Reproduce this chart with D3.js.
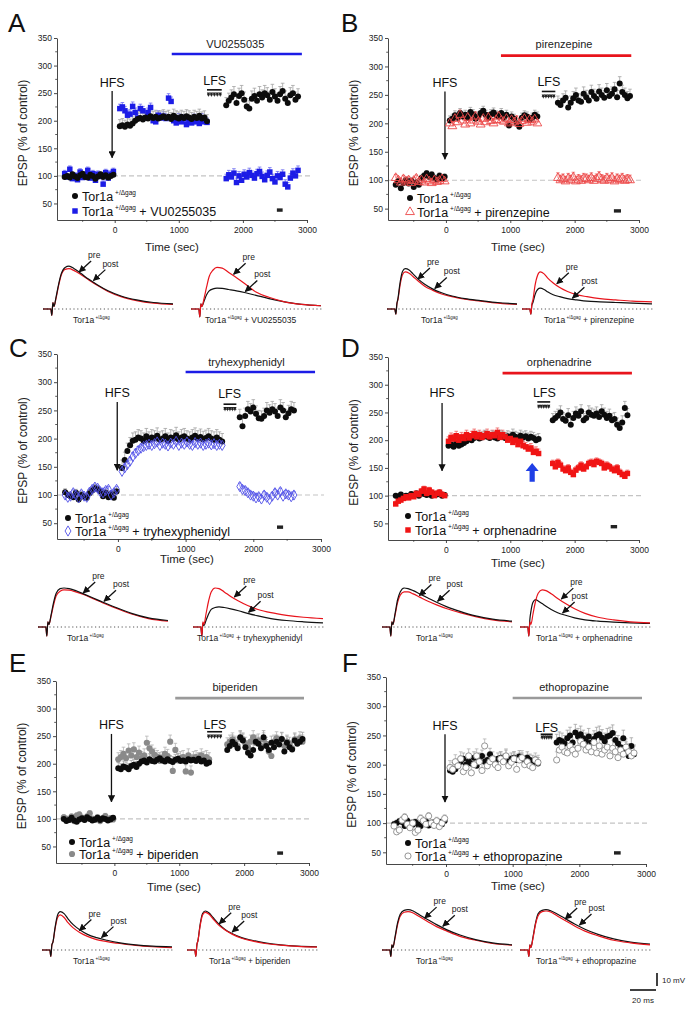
<!DOCTYPE html>
<html><head><meta charset="utf-8">
<script src="https://cdn.jsdelivr.net/npm/d3@7"></script>
<style>body{margin:0;background:#fff}svg{display:block;font-family:"Liberation Sans",Arial,sans-serif}</style>
</head><body>
<script>
// ================= DATA =================
const xTicks=[0,1000,2000,3000];
const xMinor=[-500,500,1500,2500];
const yTicks=[50,100,150,200,250,300,350];
const yMinor=[75,125,175,225,275,325];
const panelIds=["A","B","C","D","E","F"];
const drugNames=["VU0255035","pirenzepine","tryhexyphenidyl","orphenadrine","biperiden","ethopropazine"];
const sampleStep=40; // s between points
// segment start times [baseline, post-HFS, post-LFS]
const A_t0=[-780,80,1740], B_t0=[-780,60,1740], C_t0=[-780,60,1800];
const D_t0=[-780,40,1660], E_t0=[-780,60,1740], F_t0=[-780,60,1660];

const A_ctrl_base=[98,100,97,103,99,96,101,104,98,97,102,100,95,99,103,98,101,97,100,102];
const A_drug_base=[104,98,112,95,100,93,107,97,101,110,96,104,92,103,99,85,106,96,103,108];
const A_ctrl_hfs=[190,192,189,193,191,195,200,203,205,202,206,204,208,205,207,204,206,208,205,207,203,209,206,204,207,205,208,206,203,207,205,209,204,206,199];
const A_drug_hfs=[222,225,218,210,212,226,215,205,222,218,205,215,224,200,198,210,205,208,204,241,235,200,196,205,198,203,193,200,196,204,198,195,205,198,197];
const A_ctrl_lfs=[228,236,242,248,232,245,250,238,226,222,240,245,236,248,242,250,246,238,252,244,236,248,254,240,232,246,250,238,244];
const A_drug_lfs=[95,102,98,105,88,100,92,103,98,106,101,96,104,108,99,93,101,107,95,89,100,97,103,85,80,96,105,100,110];

const B_ctrl_base=[92,98,86,95,100,94,99,88,96,92,104,108,112,106,110,104,101,108,103,106];
const B_drug_base=[104,100,96,102,98,100,95,99,103,97,100,96,102,98,95,100,97,99,102,98];
const B_ctrl_hfs=[205,208,214,210,218,212,215,210,220,216,208,212,218,222,215,210,216,219,214,212,218,210,215,196,212,208,200,194,210,214,212,206,210,215,212];
const B_drug_hfs=[200,195,208,202,215,205,198,210,200,205,212,203,198,208,202,210,204,200,206,212,205,203,208,200,206,202,205,199,204,208,201,206,203,207,200];
const B_ctrl_lfs=[236,232,240,245,228,236,244,250,240,238,252,246,240,255,248,243,256,250,245,258,248,252,260,246,270,255,250,244,248];
const B_drug_lfs=[104,100,102,98,103,100,105,98,101,99,103,102,100,104,99,102,106,101,99,103,100,104,98,102,100,103,99,101,100];

const C_ctrl_base=[105,100,98,96,104,92,100,97,95,103,108,112,110,106,98,104,96,102,95,106];
const C_drug_base=[100,96,98,104,100,95,102,98,96,105,110,114,112,106,104,108,110,100,104,110];
const C_ctrl_hfs=[148,162,178,188,196,198,202,200,196,204,198,202,200,205,198,200,204,196,202,200,206,198,202,204,200,198,202,205,200,203,199,201,204,200,198,202,198,195];
const C_drug_hfs=[142,148,154,160,168,174,179,183,186,188,190,188,191,194,188,192,190,187,192,190,195,188,192,190,194,190,188,193,190,192,188,190,192,189,191,188,190,188];
const C_ctrl_lfs=[238,222,240,252,248,255,244,236,235,240,250,246,252,248,240,255,250,238,245,252,250];
const C_drug_lfs=[115,110,108,104,100,98,95,97,93,100,96,92,98,104,100,106,98,102,100,97,100];

const D_ctrl_base=[100,98,102,96,100,99,103,101,104,100,106,103,101,104,100,103,102,105,100,101];
const D_drug_base=[85,90,92,95,98,96,100,98,104,102,108,112,104,110,106,100,104,106,102,100];
const D_ctrl_hfs=[190,192,188,194,190,192,195,198,202,200,204,206,203,205,208,206,204,207,205,203,208,206,204,207,205,210,206,204,208,205,207,203,206,204,200,202];
const D_drug_hfs=[198,205,202,208,200,206,203,210,204,208,212,206,210,205,208,212,206,210,208,214,205,210,206,200,203,196,200,192,198,190,188,184,186,178,180,176];
const D_ctrl_lfs=[236,240,244,250,238,235,245,228,240,248,244,252,236,240,250,246,244,248,242,252,246,240,244,236,238,228,222,232,258,245];
const D_drug_lfs=[158,152,160,155,148,145,150,142,138,146,150,155,148,152,158,160,156,162,160,158,150,155,152,148,145,150,142,138,135,140];

const E_ctrl_base=[100,96,98,102,97,95,99,101,98,103,100,97,99,102,98,101,100,97,99,102];
const E_drug_base=[103,100,98,104,96,106,108,102,99,104,110,100,98,103,96,100,105,98,101,99];
const E_ctrl_hfs=[192,190,195,193,190,196,198,194,200,204,206,202,208,205,204,207,210,206,204,208,205,203,207,209,205,206,204,208,206,207,205,209,204,206,200,202];
const E_drug_hfs=[208,212,218,210,224,215,226,212,220,210,215,238,228,222,216,212,205,210,218,214,240,187,225,206,210,212,186,215,184,210,212,208,215,210,212,208];
const E_ctrl_lfs=[225,232,240,235,228,248,242,230,220,215,225,240,236,228,248,232,225,238,230,240,235,245,222,238,230,226,242,236,240,245];
const E_drug_lfs=[235,240,244,238,232,246,244,236,230,240,248,238,242,232,244,236,222,214,240,246,238,244,232,240,236,228,244,238,246,240];

const F_ctrl_base=[98,100,103,102,95,104,100,97,102,98,95,100,103,96,99,101,100,102,98,104];
const F_drug_base=[95,85,88,105,110,98,92,100,84,88,108,104,98,112,100,96,104,94,100,108];
const F_ctrl_hfs=[190,188,192,198,205,210,200,206,202,212,198,210,215,205,208,218,206,204,210,212,208,215,205,210,212,208,214,210,205,212,208,206,204,202];
const F_drug_hfs=[195,192,205,198,210,188,195,215,186,200,215,205,190,232,198,205,210,200,195,210,205,215,198,204,210,192,208,212,200,205,198,195,208,204];
const F_ctrl_lfs=[238,242,240,236,245,250,238,255,248,252,245,240,248,238,244,250,252,246,240,248,250,254,242,236,230,245,225,215,232,218];
const F_drug_lfs=[208,225,230,222,220,232,225,218,228,240,235,225,230,222,238,220,232,218,225,230,215,228,222,212,225,218,230,222,215,220];

// SEM per segment [baseline, post-HFS, post-LFS]
const A_ctrl_sem=[4,12,14], A_drug_sem=[6,8,8];
const B_ctrl_sem=[5,8,12],  B_drug_sem=[6,8,9];
const C_ctrl_sem=[6,14,14], C_drug_sem=[5,7,6];
const D_ctrl_sem=[4,10,12], D_drug_sem=[5,8,6];
const E_ctrl_sem=[4,10,12], E_drug_sem=[5,12,12];
const F_ctrl_sem=[5,10,14], F_drug_sem=[6,12,14];

// EPSP sample traces (ms, mV)
const traceT=[0,6,6.8,7.6,8.4,10,12,14,17,20,24,29,35,42,50,60,72,85,100];
const A_ctrlBlack=[0,0,-5,5,2,9,19,27,32,33,31,27.5,23,18.5,14,10,7,5,4];
const A_ctrlRed=[0,0,-5,5,2,8,18,26,30.5,31,29.5,26.5,22.5,18,13.5,9.5,6.5,4.5,3.5];
const A_drugRed=[0,0,-6,4,2,8,17,25,30,32,31.5,28,24,19,13,9,5.5,3.5,2.5];
const A_drugBlack=[0,0,-6,4,2,6,11,14,15.5,16,15.8,15,14,12.5,10.5,8,5.5,3.5,2.5];
const B_ctrlBlack=[0,0,-4,4,8,20,29,31,30,27,23,19,15.5,12.5,10,8,6.5,5,4];
const B_ctrlRed=[0,0,-4,4,7,18,26.5,28.5,27.5,25,21.5,17.5,14.5,11.5,9.5,7.5,6,4.5,3.5];
const B_drugRed=[0,0,-4,4,7,18,26,28.5,27,23.5,20,16.5,13.5,11,9.5,8,7,6,5.5];
const B_drugBlack=[0,0,-4,3,5,11,15,16,15,13,11,9.5,8,7,6,5.5,5,4.5,4];
const C_ctrlBlack=[0,0,-7,4,2,9,19,26,29.5,30,29.5,28,25.5,22.5,19,15,10.5,7,5];
const C_ctrlRed=[0,0,-7,4,2,8,17,24,27.5,28.5,28.3,27,25,22,18.5,14.5,10,6.5,4.5];
const C_drugRed=[0,0,-7,4,2,10,20,27,30,29.5,27,23.5,20,16.5,13.5,11,9,7.5,6.5];
const C_drugBlack=[0,0,-7,3,1,5,10,13.5,15,15.5,15,14,12.5,10.5,8.5,6.5,5,4,3.2];
const D_ctrlBlack=[0,0,-7,4,2,10,21,27,30,29.5,28,25.5,22.5,19,15.5,12,8.5,6,4.5];
const D_ctrlRed=[0,0,-7,4,2,9,19,24.5,27,27,25.5,23,20,17,14,11,8,5.5,4];
const D_drugRed=[0,0,-7,4,2,10,20,26,28.5,28,25.5,22,18,14,10.5,7.5,5.5,4,3.2];
const D_drugBlack=[0,0,-7,6,12,19,21,20,18,16,13.5,11,9,7,5.5,4.5,3.8,3.2,2.8];
const E_ctrlBlack=[0,0,-5,4,6,17,27,29.5,28,24,19.5,15.5,12,9.5,7.5,5.5,4,3,2.5];
const E_ctrlRed=[0,0,-5,4,6,16,25,27,25,21,17,13.5,10.5,8,6.5,5,3.5,2.5,1.8];
const E_drugBlack=[0,0,-5,4,7,19,28,30,28.5,25,20.5,16,12.5,9.5,7.5,5.5,4,3,2.5];
const E_drugRed=[0,0,-5,4,7,18,27,29,27.5,24,19.5,15.5,12,9,7,5,3.8,2.8,2.2];
const F_ctrlBlack=[0,0,-5,4,2,10,21,27.5,30.5,31,30,27,23.5,19.5,15.5,11.5,8,5.5,4];
const F_ctrlRed=[0,0,-5,4,2,9,19.5,26,29,29.5,28.5,25.5,22,18,14.5,10.5,7.5,5,3.8];
const F_drugBlack=[0,0,-5,4,2,10,21,28,30.5,31,30,27.5,24,20,16,12,8.5,6,4.5];
const F_drugRed=[0,0,-5,4,2,9,20,26.5,29.5,30,29,26,22.5,18.5,14.5,11,7.5,5.5,4];

// table built from the arrays
const DATA={
 A:{t0:A_t0,ctrl:[A_ctrl_base,A_ctrl_hfs,A_ctrl_lfs],drug:[A_drug_base,A_drug_hfs,A_drug_lfs],cs:A_ctrl_sem,ds:A_drug_sem,tr:[A_ctrlBlack,A_ctrlRed,A_drugBlack,A_drugRed]},
 B:{t0:B_t0,ctrl:[B_ctrl_base,B_ctrl_hfs,B_ctrl_lfs],drug:[B_drug_base,B_drug_hfs,B_drug_lfs],cs:B_ctrl_sem,ds:B_drug_sem,tr:[B_ctrlBlack,B_ctrlRed,B_drugBlack,B_drugRed]},
 C:{t0:C_t0,ctrl:[C_ctrl_base,C_ctrl_hfs,C_ctrl_lfs],drug:[C_drug_base,C_drug_hfs,C_drug_lfs],cs:C_ctrl_sem,ds:C_drug_sem,tr:[C_ctrlBlack,C_ctrlRed,C_drugBlack,C_drugRed]},
 D:{t0:D_t0,ctrl:[D_ctrl_base,D_ctrl_hfs,D_ctrl_lfs],drug:[D_drug_base,D_drug_hfs,D_drug_lfs],cs:D_ctrl_sem,ds:D_drug_sem,tr:[D_ctrlBlack,D_ctrlRed,D_drugBlack,D_drugRed]},
 E:{t0:E_t0,ctrl:[E_ctrl_base,E_ctrl_hfs,E_ctrl_lfs],drug:[E_drug_base,E_drug_hfs,E_drug_lfs],cs:E_ctrl_sem,ds:E_drug_sem,tr:[E_ctrlBlack,E_ctrlRed,E_drugBlack,E_drugRed]},
 F:{t0:F_t0,ctrl:[F_ctrl_base,F_ctrl_hfs,F_ctrl_lfs],drug:[F_drug_base,F_drug_hfs,F_drug_lfs],cs:F_ctrl_sem,ds:F_drug_sem,tr:[F_ctrlBlack,F_ctrlRed,F_drugBlack,F_drugRed]}
};

// ================= LAYOUT / STYLE =================
const BLUE="#1c1ce6", RED="#e8141c", GRAY="#9a9a9a";
const L={
 A:{letter:[8,32],xL:57,xR:307,yT:38,yB:220,yMin:20,time:[172,251],
    drug:{t:1880,v:332,lv:321,t1:890,t2:2920,c:BLUE},hfs:{t:-40,vt:261,v1:254,v2:133},
    lfs:{t:1560,vt:265,t1:1440,t2:1670,vb:256,va:247},sb:{t1:2530,t2:2620,v:38},
    leg:[75,196,211],mk:{type:"square",fill:BLUE,stroke:"none",err:"#6b6bf0"},drugTop:false,
    tg:[{x0:43,y0:309,lab:30,tp:27,tq:38},{x0:191,y0:309,lab:14,tp:32,tq:41}]},
 B:{letter:[341,32],xL:388,xR:639,yT:38,yB:220,yMin:30,time:[518,251],
    drug:{t:1835,v:332,lv:319,t1:855,t2:2880,c:RED},hfs:{t:-15,vt:263,v1:256,v2:137},
    lfs:{t:1600,vt:265,t1:1490,t2:1700,vb:256,va:247},sb:{t1:2610,t2:2720,v:46},
    leg:[410,198,212],mk:{type:"triangle",fill:"none",stroke:"#ec4848",err:"#f07070"},drugTop:true,
    tg:[{x0:387,y0:309,lab:34,tp:23,tq:36},{x0:522,y0:309,lab:22,tp:26,tq:38}]},
 C:{letter:[9,357],xL:57,xR:321,yT:354,yB:539,yMin:22,time:[187,563],
    drug:{t:1900,v:329,lv:318,t1:1000,t2:2912,c:BLUE},hfs:{t:-10,vt:274,v1:265,v2:144},
    lfs:{t:1650,vt:272,t1:1560,t2:1750,vb:261,va:252},sb:{t1:2350,t2:2440,v:43},
    leg:[68,518,531],mk:{type:"diamond",fill:"none",stroke:"#5050e8",err:"#7a7af0"},drugTop:true,
    tg:[{x0:38,y0:627,lab:29,tp:34,tq:50},{x0:193,y0:627,lab:4,tp:31,tq:42}]},
 D:{letter:[341,357],xL:388,xR:639,yT:357,yB:540,yMin:20,time:[518,567],
    drug:{t:1760,v:334,lv:321,t1:880,t2:2890,c:RED},hfs:{t:-60,vt:278,v1:267,v2:145},
    lfs:{t:1530,vt:278,t1:1420,t2:1620,vb:269,va:260},sb:{t1:2560,t2:2660,v:44},
    leg:[408,516,530],mk:{type:"square",fill:"#f01414",stroke:"none",err:"#f06060"},drugTop:true,
    tg:[{x0:382,y0:627,lab:34,tp:28,tq:42},{x0:520,y0:627,lab:16,tp:31,tq:32}]},
 E:{letter:[9,672],xL:56,xR:309,yT:681,yB:863,yMin:20,time:[174,891],
    drug:{t:1860,v:332,lv:319,t1:938,t2:2923,c:GRAY},hfs:{t:-45,vt:263,v1:254,v2:131},
    lfs:{t:1550,vt:263,t1:1430,t2:1660,vb:258,va:249},sb:{t1:2510,t2:2600,v:38},
    leg:[72,842,854],mk:{type:"circle",fill:"#8a8a8a",stroke:"none",err:"#b4b4b4"},drugTop:false,
    tg:[{x0:42,y0:950,lab:31,tp:28,tq:45},{x0:187,y0:950,lab:22,tp:24,tq:34}]},
 F:{letter:[342,672],xL:386,xR:646,yT:677,yB:864,yMin:30,time:[518,890],
    drug:{t:1920,v:326,lv:314,t1:1000,t2:2940,c:GRAY},hfs:{t:-15,vt:259,v1:252,v2:136},
    lfs:{t:1510,vt:256,t1:1420,t2:1600,vb:252,va:246},sb:{t1:2520,t2:2620,v:49},
    leg:[408,843,856],mk:{type:"circle",fill:"#fff",stroke:"#8a8a8a",err:"#b4b4b4"},drugTop:true,
    tg:[{x0:382,y0:950,lab:34,tp:32,tq:46},{x0:520,y0:950,lab:16,tp:34,tq:45}]}
};
const SYM={square:d3.symbolSquare,triangle:d3.symbolTriangle,diamond:d3.symbolDiamond,circle:d3.symbolCircle};

// ================= DRAW =================
const svg=d3.select("body").append("svg").attr("width",698).attr("height",1012);
const defs=svg.append("defs");
defs.append("marker").attr("id","ah").attr("viewBox","0 0 10 10").attr("refX",9).attr("refY",5)
  .attr("markerWidth",5.5).attr("markerHeight",5.5).attr("orient","auto")
  .append("path").attr("d","M0,0L10,5L0,10z").attr("fill","#111");

function tor(textSel,size,suffix){
  textSel.append("tspan").text("Tor1a");
  textSel.append("tspan").attr("font-size",size*0.52).attr("dy",-size*0.42).text(" +/\u0394gag");
  if(suffix) textSel.append("tspan").attr("dy",size*0.42).text(" + "+suffix);
}

function points(t0,segs,sem){
  const out=[];
  segs.forEach((vals,k)=>vals.forEach((v,i)=>out.push({t:t0[k]+i*sampleStep,v:v,e:sem[k]})));
  return out;
}

function interp(arr,t){
  for(let i=0;i<traceT.length-1;i++){
    if(t>=traceT[i]&&t<=traceT[i+1]){const f=(t-traceT[i])/(traceT[i+1]-traceT[i]);return arr[i]+f*(arr[i+1]-arr[i]);}
  }
  return arr[arr.length-1];
}

panelIds.forEach((id,pi)=>{
  const p=L[id], d=DATA[id], drug=drugNames[pi];
  const g=svg.append("g");
  const x=d3.scaleLinear().domain([-900,3000]).range([p.xL,p.xR]);
  const y=d3.scaleLinear().domain([p.yMin,350]).range([p.yB,p.yT]);

  svg.append("text").attr("x",p.letter[0]).attr("y",p.letter[1]).attr("font-size",26).attr("fill","#111").text(id);

  // 100% reference line
  g.append("line").attr("x1",p.xL).attr("x2",x(3000)+3).attr("y1",y(100)).attr("y2",y(100))
    .attr("stroke","#c4c4c4").attr("stroke-width",1.1).attr("stroke-dasharray","5,3");

  // axes
  const ax=g.append("g").attr("transform",`translate(0,${p.yB})`)
    .call(d3.axisBottom(x).tickValues(xTicks).tickFormat(d3.format("d")).tickSize(3).tickSizeOuter(0).tickPadding(4));
  const ay=g.append("g").attr("transform",`translate(${p.xL},0)`)
    .call(d3.axisLeft(y).tickValues(yTicks).tickFormat(d3.format("d")).tickSize(3).tickSizeOuter(0).tickPadding(2));
  [ax,ay].forEach(a=>{a.attr("font-family",null).attr("font-size",8.5);
    a.selectAll("text").attr("fill","#222"); a.selectAll("path,line").attr("stroke","#333").attr("stroke-width",0.9);});
  g.selectAll(null).data(xMinor).join("line").attr("x1",v=>x(v)).attr("x2",v=>x(v)).attr("y1",p.yB).attr("y2",p.yB+1.8).attr("stroke","#333").attr("stroke-width",0.8);
  g.selectAll(null).data(yMinor).join("line").attr("y1",v=>y(v)).attr("y2",v=>y(v)).attr("x1",p.xL).attr("x2",p.xL-1.8).attr("stroke","#333").attr("stroke-width",0.8);

  g.append("text").attr("x",p.time[0]).attr("y",p.time[1]).attr("text-anchor","middle").attr("font-size",11.5).attr("fill","#222").text("Time (sec)");
  g.append("text").attr("transform",`translate(${p.xL-30},${(p.yT+p.yB)/2+4}) rotate(-90)`).attr("text-anchor","middle")
    .attr("font-size",12).attr("fill","#222").text("EPSP (% of control)");

  // drug bar
  g.append("line").attr("x1",x(p.drug.t1)).attr("x2",x(p.drug.t2)).attr("y1",y(p.drug.lv)).attr("y2",y(p.drug.lv)).attr("stroke",p.drug.c).attr("stroke-width",2.6);
  g.append("text").attr("x",x(p.drug.t)).attr("y",y(p.drug.v)).attr("text-anchor","middle").attr("font-size",11).attr("fill","#222").text(drug);

  // HFS
  g.append("text").attr("x",x(p.hfs.t)).attr("y",y(p.hfs.vt)).attr("text-anchor","middle").attr("font-size",12.5).attr("fill","#111").text("HFS");
  g.append("line").attr("x1",x(p.hfs.t)).attr("x2",x(p.hfs.t)).attr("y1",y(p.hfs.v1)).attr("y2",y(p.hfs.v2)).attr("stroke","#111").attr("stroke-width",1.3).attr("marker-end","url(#ah)");

  // LFS
  g.append("text").attr("x",x(p.lfs.t)).attr("y",y(p.lfs.vt)).attr("text-anchor","middle").attr("font-size",12.5).attr("fill","#111").text("LFS");
  g.append("line").attr("x1",x(p.lfs.t1)).attr("x2",x(p.lfs.t2)).attr("y1",y(p.lfs.vb)).attr("y2",y(p.lfs.vb)).attr("stroke","#111").attr("stroke-width",1.6);
  const ya=y(p.lfs.va), xa1=x(p.lfs.t1), xa2=x(p.lfs.t2);
  g.append("line").attr("x1",xa1).attr("x2",xa2).attr("y1",ya).attr("y2",ya).attr("stroke","#222").attr("stroke-width",0.9);
  g.selectAll(null).data(d3.range(5)).join("path")
    .attr("d",k=>{const cx=xa1+1.5+k*(xa2-xa1-3)/4;return `M${cx-1.6},${ya-2.2}L${cx+1.6},${ya-2.2}L${cx},${ya+2.2}Z`;})
    .attr("fill","#222");

  // scale mark
  g.append("rect").attr("x",x(p.sb.t1)).attr("width",x(p.sb.t2)-x(p.sb.t1)).attr("y",y(p.sb.v)-1.7).attr("height",3.4).attr("fill","#222");

  // series
  const ctrl=points(d.t0,d.ctrl,d.cs), drg=points(d.t0,d.drug,d.ds);
  const errPath=q=>`M${x(q.t)},${y(q.v)}V${y(q.v+q.e)}M${x(q.t)-1.8},${y(q.v+q.e)}h3.6`;
  const drawErr=(pts,c)=>g.append("g").selectAll("path").data(pts).join("path").attr("d",errPath).attr("stroke",c).attr("stroke-width",0.8).attr("fill","none");
  const drawCtrl=()=>g.append("g").selectAll("circle").data(ctrl).join("circle").attr("cx",q=>x(q.t)).attr("cy",q=>y(q.v)).attr("r",3).attr("fill","#0c0c0c");
  const sym=d3.symbol().type(SYM[p.mk.type]).size(p.mk.type==="triangle"?34:30);
  const drawDrug=()=>g.append("g").selectAll("path").data(drg).join("path").attr("transform",q=>`translate(${x(q.t)},${y(q.v)})`)
    .attr("d",sym).attr("fill",p.mk.fill).attr("stroke",p.mk.stroke).attr("stroke-width",0.9);
  drawErr(drg,p.mk.err); drawErr(ctrl,"#a2a2a2");
  if(p.drugTop){drawCtrl();drawDrug();}else{drawDrug();drawCtrl();}

  // D: blue arrow
  if(id==="D"){
    const ax0=x(1340), yb=y(125), yt=y(159);
    g.append("path").attr("d",`M${ax0-2.6},${yb}V${yt+8}H${ax0-6.5}L${ax0},${yt}L${ax0+6.5},${yt+8}H${ax0+2.6}V${yb}Z`).attr("fill","#1f3fe6");
  }

  // legend
  const [lx,ly1,ly2]=p.leg;
  g.append("circle").attr("cx",lx).attr("cy",ly1).attr("r",3).attr("fill","#0c0c0c");
  g.append("path").attr("transform",`translate(${lx},${ly2})`).attr("d",sym).attr("fill",p.mk.fill).attr("stroke",p.mk.stroke).attr("stroke-width",0.9);
  tor(g.append("text").attr("x",lx+7).attr("y",ly1+4.5).attr("font-size",12.5).attr("fill","#111"),12.5,null);
  tor(g.append("text").attr("x",lx+7).attr("y",ly2+4.5).attr("font-size",12.5).attr("fill","#111"),12.5,drug);

  // traces
  p.tg.forEach((tg,k)=>{
    const black=d.tr[k*2], red=d.tr[k*2+1];
    const tx=d3.scaleLinear().domain([0,100]).range([tg.x0,tg.x0+130]);
    const ty=d3.scaleLinear().domain([0,10]).range([tg.y0,tg.y0-13]);
    const tgG=svg.append("g");
    tgG.append("line").attr("x1",tg.x0).attr("x2",tg.x0+133).attr("y1",tg.y0).attr("y2",tg.y0).attr("stroke","#444").attr("stroke-width",0.9).attr("stroke-dasharray","1.2,2.6");
    const ln=d3.line().x((v,i)=>tx(traceT[i])).y(v=>ty(v)).curve(d3.curveMonotoneX);
    const order=k===0?[[red,RED],[black,"#111"]]:[[black,"#111"],[red,RED]];
    order.forEach(([arr,c])=>tgG.append("path").attr("d",ln(arr)).attr("fill","none").attr("stroke",c).attr("stroke-width",1.2));
    [["pre",red,tg.tp],["post",black,tg.tq]].forEach(([lab,arr,t])=>{
      const px=tx(t), py=ty(interp(arr,t));
      const sx=px+13, sy=py-12;
      tgG.append("line").attr("x1",sx).attr("y1",sy).attr("x2",px+1).attr("y2",py-1).attr("stroke","#111").attr("stroke-width",1.3).attr("marker-end","url(#ah)");
      tgG.append("text").attr("x",sx-3).attr("y",sy-3).attr("font-size",8.5).attr("fill","#222").text(lab);
    });
    tor(tgG.append("text").attr("x",tg.x0+tg.lab).attr("y",tg.y0+14).attr("font-size",8.5).attr("fill","#222"),8.5,k===1?drug:null);
  });
});

// scale bars
const sbx=d3.scaleLinear().domain([0,20]).range([630,656]);
const sby=d3.scaleLinear().domain([0,10]).range([986,973]);
svg.append("line").attr("x1",657).attr("x2",657).attr("y1",sby(0)).attr("y2",sby(10)).attr("stroke","#111").attr("stroke-width",1.6);
svg.append("line").attr("x1",sbx(0)).attr("x2",sbx(20)).attr("y1",990).attr("y2",990).attr("stroke","#111").attr("stroke-width",1.6);
svg.append("text").attr("x",662).attr("y",983).attr("font-size",8).attr("fill","#222").text("10 mV");
svg.append("text").attr("x",643).attr("y",1003).attr("font-size",8).attr("text-anchor","middle").attr("fill","#222").text("20 ms");
</script>
</body></html>
